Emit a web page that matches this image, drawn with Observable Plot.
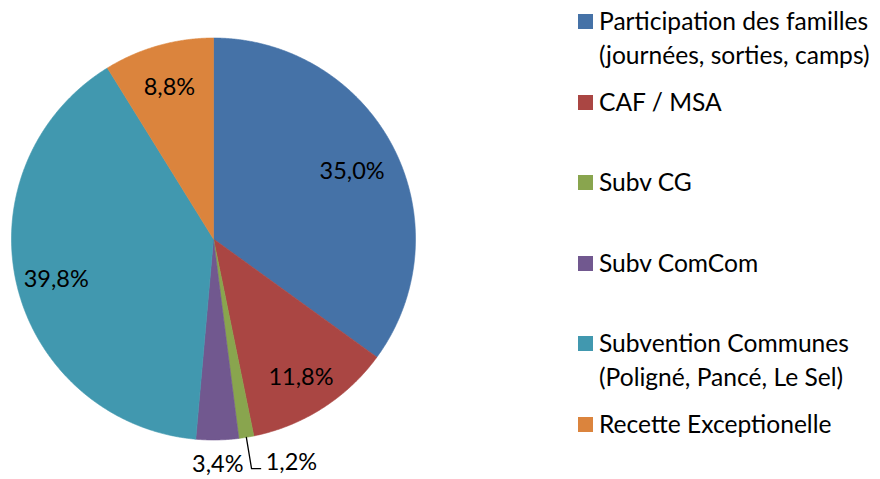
<!DOCTYPE html>
<html>
<head>
<meta charset="utf-8">
<script src="https://cdn.jsdelivr.net/npm/d3@7"></script>
<script src="https://cdn.jsdelivr.net/npm/@observablehq/plot@0.6"></script>
<style>
  html, body { margin: 0; padding: 0; background: #fff; }
  #wrap { position: relative; width: 880px; height: 479px; font-family: Lato, "Open Sans", sans-serif; }
  #legend { position: absolute; left: 0; top: 0; }
  .item { position: absolute; left: 599px; font-size: 24.6px; line-height: 34px; color: #000; white-space: nowrap; }
  .sw { position: absolute; left: -21px; top: 10px; width: 15px; height: 15px; }
</style>
</head>
<body>
<div id="wrap"><div id="chart"></div><div id="legend"></div></div>
<script>
const categories = [
  "Participation des familles (journées, sorties, camps)",
  "CAF / MSA",
  "Subv CG",
  "Subv ComCom",
  "Subvention Communes (Poligné, Pancé, Le Sel)",
  "Recette Exceptionelle"
];
const legendLines = [
  ["Participation des familles", "(journées, sorties, camps)"],
  ["CAF / MSA"],
  ["Subv CG"],
  ["Subv ComCom"],
  ["Subvention Communes", "(Poligné, Pancé, Le Sel)"],
  ["Recette Exceptionelle"]
];
const values = [35.0, 11.8, 1.2, 3.4, 39.8, 8.8];
const valueLabels = ["35,0%", "11,8%", "1,2%", "3,4%", "39,8%", "8,8%"];
const colors = ["#4572A7", "#AA4643", "#89A54E", "#71588F", "#4198AF", "#DB843D"];

const arcs = d3.pie().sort(null).value(d => d)(values);
const pt = (a, r) => ({x: r * Math.sin(a), y: r * Math.cos(a)});

// slice polygons
const polys = [];
arcs.forEach((a, i) => {
  polys.push({...pt(0, 0), cat: categories[i], i});
  const n = Math.max(2, Math.ceil((a.endAngle - a.startAngle) / 0.005));
  for (let k = 0; k <= n; k++) {
    const ang = a.startAngle + (a.endAngle - a.startAngle) * k / n;
    polys.push({...pt(ang, 1), cat: categories[i], i});
  }
  polys.push({...pt(0, 0), cat: categories[i], i});
});

// labels
const mid = a => (a.startAngle + a.endAngle) / 2;
const inside = [], outside = [], callout = [], leader = [];
arcs.forEach((a, i) => {
  const m = mid(a);
  if (values[i] >= 5) inside.push({...pt(m, values[i] > 30 && values[i] < 36 ? 0.77 : 0.8), label: valueLabels[i]});
  else if (i === 3) outside.push({...pt(m, 1.125), label: valueLabels[i]});
  else {
    const e = pt(m, 1.0), k = pt(m, 1.158);
    leader.push(e, k, {x: k.x + 0.045, y: k.y});
    callout.push({x: k.x + 0.07, y: k.y, label: valueLabels[i]});
  }
});

const chart = Plot.plot({
  width: 880, height: 479,
  margin: 0,
  style: {fontFamily: "Lato, 'Open Sans', sans-serif", background: "transparent"},
  x: {domain: [-1, 1], range: [11, 415], axis: null},
  y: {domain: [-1, 1], range: [439.5, 37.5], axis: null},
  color: {domain: categories, range: colors},
  marks: [
    Plot.line(polys, {x: "x", y: "y", z: "cat", fill: "cat", stroke: "cat", strokeWidth: 0.6, curve: "linear"}),
    Plot.text(inside, {x: "x", y: "y", text: "label", fontSize: 23.5, fill: "#000", dy: 3}),
    Plot.text(outside, {x: "x", y: "y", text: "label", fontSize: 23.5, fill: "#000", dy: -1}),
    Plot.line(leader, {x: "x", y: "y", stroke: "#000", strokeWidth: 1.3}),
    Plot.text(callout, {x: "x", y: "y", text: "label", fontSize: 23.5, fill: "#000", textAnchor: "start", dy: -6})
  ]
});
document.getElementById("chart").appendChild(chart);

const lg = document.getElementById("legend");
const firstCenter = 21, step = 80.6;
legendLines.forEach((lines, i) => {
  const d = document.createElement("div");
  d.className = "item";
  d.style.top = (firstCenter + i * step - 17) + "px";
  const sw = document.createElement("span");
  sw.className = "sw";
  sw.style.background = colors[i];
  d.appendChild(sw);
  lines.forEach((t, j) => {
    const l = document.createElement("div");
    l.textContent = t;
    d.appendChild(l);
  });
  lg.appendChild(d);
});
</script>
</body>
</html>
